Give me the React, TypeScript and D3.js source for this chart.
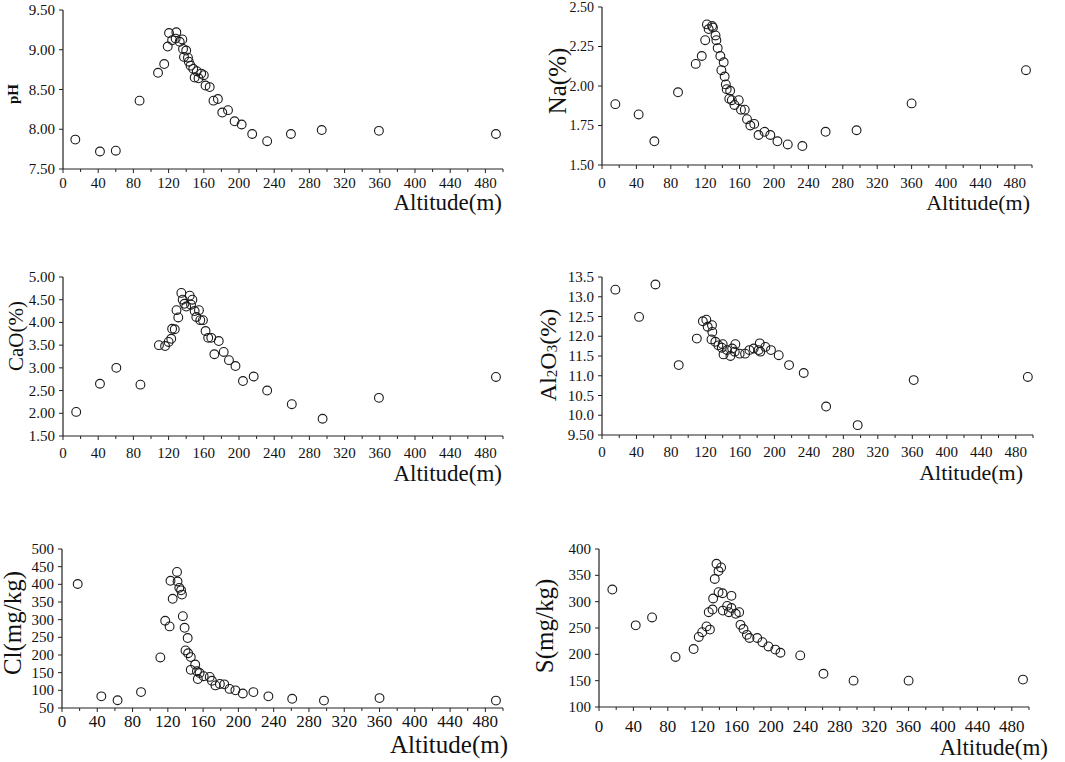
import React from 'react';
import * as d3 from 'd3';

type Pt = [number, number];

// x axis (altitude) ticks, shared by all panels
const altitudeTicks = [0, 40, 80, 120, 160, 200, 240, 280, 320, 360, 400, 440, 480];
const altitudeMinorTicks = [20, 60, 100, 140, 180, 220, 260, 300, 340, 380, 420, 460, 500];

// y ticks per panel
const phTicks = [7.5, 8.0, 8.5, 9.0, 9.5];
const naTicks = [1.5, 1.75, 2.0, 2.25, 2.5];
const caoTicks = [1.5, 2.0, 2.5, 3.0, 3.5, 4.0, 4.5, 5.0];
const al2o3Ticks = [9.5, 10.0, 10.5, 11.0, 11.5, 12.0, 12.5, 13.0, 13.5];
const al2o3TickLabels = ['9.50', '10.0', '10.5', '11.0', '11.5', '12.0', '12.5', '13.0', '13.5'];
const clTicks = [50, 100, 150, 200, 250, 300, 350, 400, 450, 500];
const sTicks = [100, 150, 200, 250, 300, 350, 400];

// [altitude (m), value]
const phPoints: Pt[] = [
    [14, 7.87], [42, 7.72], [60, 7.73], [87, 8.36], [108, 8.71], [115, 8.82], [119, 9.04],
    [120.5, 9.21], [124, 9.12], [128.8, 9.22], [128, 9.14], [132.6, 9.10], [135.6, 9.13],
    [136.4, 9.01], [137.5, 8.91], [140, 8.99], [142, 8.90], [143, 8.85], [145, 8.80],
    [148, 8.76], [149.6, 8.65], [152, 8.73], [154, 8.64], [157, 8.70], [160, 8.68],
    [162, 8.55], [166.7, 8.53], [171, 8.36], [176, 8.38], [181, 8.21], [187.5, 8.24],
    [195, 8.10], [203, 8.06], [215, 7.94], [232, 7.85], [259, 7.94], [294, 7.99],
    [359, 7.98], [492, 7.94],
];

const naPoints: Pt[] = [
    [15.5, 1.885], [42.6, 1.82], [60.9, 1.65], [88.4, 1.96], [109, 2.14], [116, 2.19],
    [120, 2.29], [122, 2.39], [124, 2.36], [128, 2.38], [129, 2.37], [132, 2.32],
    [133, 2.29], [134.5, 2.24], [137.6, 2.19], [141.5, 2.15], [138.8, 2.10], [142.6, 2.06],
    [144, 2.01], [145, 1.98], [149, 1.97], [148, 1.92], [151, 1.91], [154, 1.88],
    [159, 1.91], [161.6, 1.85], [166, 1.85], [168.6, 1.79], [172.5, 1.75], [177, 1.76],
    [182, 1.69], [189, 1.71], [195.7, 1.69], [204, 1.65], [216, 1.63], [233, 1.62],
    [260, 1.71], [296, 1.72], [360, 1.89], [493, 2.10],
];

const caoPoints: Pt[] = [
    [15, 2.03], [42, 2.65], [60.6, 3.0], [88, 2.63], [109, 3.50], [116, 3.48], [120, 3.57],
    [123, 3.64], [124, 3.86], [127, 3.85], [129, 4.27], [131, 4.11], [134.5, 4.65],
    [136, 4.50], [138, 4.41], [140, 4.35], [144, 4.59], [145.5, 4.39], [147, 4.50],
    [149.6, 4.25], [151.5, 4.12], [154.5, 4.27], [156, 4.05], [159, 4.05], [162, 3.81],
    [165, 3.66], [168.5, 3.66], [177, 3.59], [172, 3.30], [182.6, 3.35], [188.6, 3.17],
    [196, 3.04], [204.5, 2.71], [216.7, 2.81], [232, 2.50], [260, 2.20], [295, 1.88],
    [359, 2.34], [492, 2.80],
];

const al2o3Points: Pt[] = [
    [15.5, 13.18], [43, 12.49], [62, 13.31], [89, 11.27], [110, 11.94], [117, 12.38],
    [121, 12.42], [122.6, 12.24], [127.6, 12.28], [128, 12.11], [127, 11.92], [131.5, 11.86],
    [135, 11.77], [139, 11.71], [140, 11.80], [141, 11.54], [145, 11.65], [149, 11.50],
    [151, 11.69], [154.7, 11.80], [154, 11.61], [159.7, 11.56], [166, 11.56], [171, 11.65],
    [176, 11.69], [181.7, 11.65], [183, 11.82], [183.7, 11.61], [189.5, 11.73], [196, 11.65],
    [205, 11.52], [217, 11.27], [234, 11.07], [260, 10.22], [296.6, 9.75], [361.6, 10.89],
    [494, 10.97],
];

const clPoints: Pt[] = [
    [17.8, 401], [44.6, 83], [63, 72], [89.6, 95], [111.5, 193], [117, 297], [122, 281],
    [123, 410], [125.5, 359], [130.4, 435], [131, 408], [133, 390], [135, 383], [136, 371],
    [137, 310], [139, 277], [142.5, 248], [140, 213], [143, 205], [146, 194], [151, 173],
    [146, 158], [153, 154], [156, 149], [154, 132], [160.6, 140], [167.5, 138], [170, 127],
    [174, 114], [179, 118], [184, 117], [190, 104], [196.6, 100], [205, 91], [217, 95],
    [234, 83], [261, 76], [297, 71], [360, 78], [492, 71],
];

const sPoints: Pt[] = [
    [15.5, 323], [42.7, 255], [61.7, 270], [89, 195], [110, 210], [116, 233], [120, 242],
    [125, 253], [129, 247], [127.6, 280], [132, 285], [132.7, 306], [134.6, 343], [136.6, 372],
    [139, 358], [142, 365], [139, 318], [143.6, 316], [144, 283], [149, 292], [151, 280],
    [154, 288], [154, 311], [159, 277], [163, 280], [164.5, 256], [168, 248], [172, 237],
    [175, 231], [184, 231], [190, 223], [197, 215], [205, 209], [211, 203], [234, 198],
    [261, 163], [296, 150], [360, 150], [493, 152],
];

const FONT = '"Liberation Serif", "Times New Roman", serif';

interface PanelCfg {
    points: Pt[];
    ticks: number[];
    tickLabels: string[];
    title: React.ReactNode;
    titleBold?: boolean;
    titleSize: number;
    titleX: number;
    titleY: number;
    x0: number; x1: number; yTop: number; yBottom: number;
    xLabelOffset: number;
    xTickSize: number;
    yTickSize: number;
    altRight: number; altBaseline: number; altSize: number;
}

const fmt2 = d3.format('.2f');

const panels: PanelCfg[] = [
    {
        points: phPoints, ticks: phTicks, tickLabels: phTicks.map(fmt2),
        title: 'pH', titleBold: true, titleSize: 15, titleX: 13, titleY: 94,
        x0: 63, x1: 503, yTop: 10, yBottom: 169, xLabelOffset: 14, xTickSize: 15, yTickSize: 15,
        altRight: 502, altBaseline: 210, altSize: 23,
    },
    {
        points: naPoints, ticks: naTicks, tickLabels: naTicks.map(fmt2),
        title: 'Na(%)', titleSize: 25, titleX: 557, titleY: 81,
        x0: 602, x1: 1032, yTop: 7, yBottom: 165, xLabelOffset: 18, xTickSize: 15, yTickSize: 14,
        altRight: 1030, altBaseline: 210, altSize: 22,
    },
    {
        points: caoPoints, ticks: caoTicks, tickLabels: caoTicks.map(fmt2),
        title: 'CaO(%)', titleSize: 21, titleX: 16, titleY: 336,
        x0: 63, x1: 503, yTop: 277, yBottom: 436, xLabelOffset: 17, xTickSize: 15, yTickSize: 15,
        altRight: 502, altBaseline: 481, altSize: 23,
    },
    {
        points: al2o3Points, ticks: al2o3Ticks, tickLabels: al2o3TickLabels,
        title: (
            <>
                Al<tspan fontSize={15} dy={4}>2</tspan><tspan fontSize={24} dy={-4}>O</tspan>
                <tspan fontSize={15} dy={4}>3</tspan><tspan fontSize={24} dy={-4}>(%)</tspan>
            </>
        ),
        titleSize: 24, titleX: 548, titleY: 355,
        x0: 602, x1: 1033, yTop: 277, yBottom: 435, xLabelOffset: 17, xTickSize: 15, yTickSize: 15,
        altRight: 1023, altBaseline: 480, altSize: 22,
    },
    {
        points: clPoints, ticks: clTicks, tickLabels: clTicks.map(String),
        title: 'Cl(mg/kg)', titleSize: 25, titleX: 12, titleY: 623,
        x0: 62, x1: 503, yTop: 549, yBottom: 708, xLabelOffset: 13, xTickSize: 17, yTickSize: 15,
        altRight: 508, altBaseline: 753, altSize: 25,
    },
    {
        points: sPoints, ticks: sTicks, tickLabels: sTicks.map(String),
        title: 'S(mg/kg)', titleSize: 25, titleX: 544, titleY: 626,
        x0: 599, x1: 1029, yTop: 549, yBottom: 707, xLabelOffset: 19, xTickSize: 17, yTickSize: 15,
        altRight: 1048, altBaseline: 755, altSize: 23,
    },
];

function Panel({ cfg }: { cfg: PanelCfg }) {
    const x = d3.scaleLinear().domain([0, 500]).range([cfg.x0, cfg.x1]);
    const y = d3.scaleLinear()
        .domain([cfg.ticks[0], cfg.ticks[cfg.ticks.length - 1]])
        .range([cfg.yBottom, cfg.yTop]);
    const axisColor = '#222';

    return (
        <g fontFamily={FONT} fill="#111">
            {/* axes */}
            <line x1={cfg.x0} x2={cfg.x1} y1={cfg.yBottom} y2={cfg.yBottom} stroke={axisColor} strokeWidth={1.2} />
            <line x1={cfg.x0} x2={cfg.x0} y1={cfg.yTop} y2={cfg.yBottom} stroke={axisColor} strokeWidth={1.2} />

            {altitudeTicks.map(t => (
                <g key={'xt' + t}>
                    <line x1={x(t)} x2={x(t)} y1={cfg.yBottom} y2={cfg.yBottom + 4} stroke={axisColor} />
                    <text x={x(t)} y={cfg.yBottom + cfg.xLabelOffset} textAnchor="middle"
                        dominantBaseline="central" fontSize={cfg.xTickSize}>{t}</text>
                </g>
            ))}
            {altitudeMinorTicks.map(t => (
                <line key={'xm' + t} x1={x(t)} x2={x(t)} y1={cfg.yBottom} y2={cfg.yBottom + 3} stroke={axisColor} />
            ))}

            {cfg.ticks.map((t, i) => (
                <g key={'yt' + t}>
                    <line x1={cfg.x0 - 4} x2={cfg.x0} y1={y(t)} y2={y(t)} stroke={axisColor} />
                    <text x={cfg.x0 - 8} y={y(t)} textAnchor="end" dominantBaseline="central"
                        fontSize={cfg.yTickSize}>{cfg.tickLabels[i]}</text>
                </g>
            ))}

            {/* titles */}
            <text transform={`translate(${cfg.titleX},${cfg.titleY}) rotate(-90)`} textAnchor="middle"
                dominantBaseline="central" fontSize={cfg.titleSize} fontWeight={cfg.titleBold ? 'bold' : 'normal'}>
                {cfg.title}
            </text>
            <text x={cfg.altRight} y={cfg.altBaseline} textAnchor="end" fontSize={cfg.altSize}>Altitude(m)</text>

            {/* points */}
            {cfg.points.map((d, i) => (
                <circle key={i} cx={x(d[0])} cy={y(d[1])} r={4.4} fill="none" stroke="#1a1a1a" strokeWidth={1.1} />
            ))}
        </g>
    );
}

export default function App() {
    return (
        <div style={{ position: 'absolute', left: 0, top: 0, background: '#fff' }}>
            <svg width={1065} height={762} style={{ display: 'block' }}>
                <rect width={1065} height={762} fill="#fff" />
                {panels.map((p, i) => <Panel key={i} cfg={p} />)}
            </svg>
        </div>
    );
}
